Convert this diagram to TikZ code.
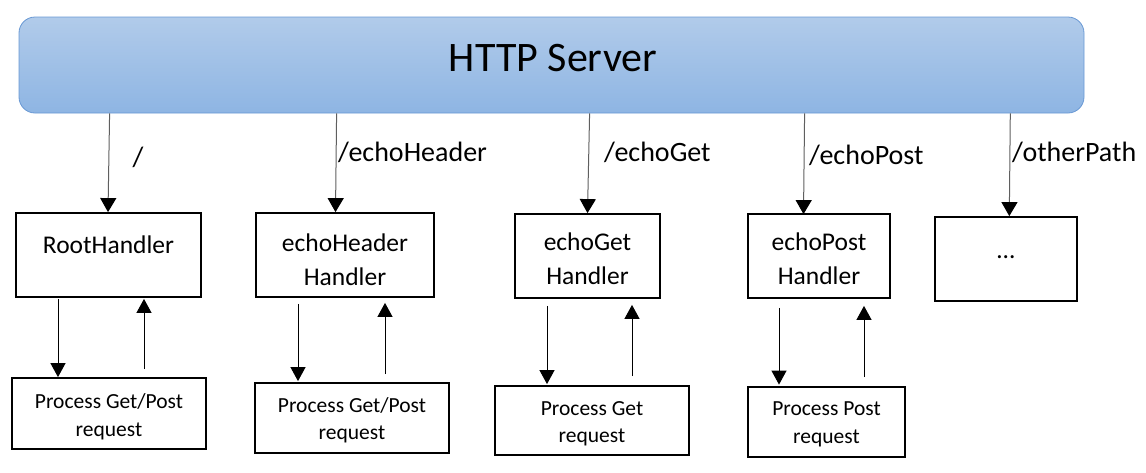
\documentclass[tikz,border=0pt]{standalone}
\usepackage{fontspec}
\setmainfont{Carlito}
\usetikzlibrary{arrows.meta,calc}
\definecolor{srvtop}{RGB}{177,203,234}
\definecolor{srvbot}{RGB}{142,181,227}
\definecolor{srvedge}{RGB}{104,152,212}
\definecolor{linkgray}{RGB}{95,95,95}
\tikzset{
  srv/.style={rectangle, rounded corners=16pt, draw=srvedge, line width=0.8pt,
    top color=srvtop, bottom color=srvbot, inner sep=0pt},
  box/.style={rectangle, draw=black, line width=1.8pt, inner sep=0pt},
  htext/.style={font=\fontsize{25.5}{34}\selectfont, align=center, inner sep=0pt},
  ptext/.style={font=\fontsize{21.5}{27.5}\selectfont, align=center, inner sep=0pt},
  pathlabel/.style={font=\fontsize{28}{34}\selectfont, inner sep=0pt, anchor=west},
  route/.style={draw=linkgray, line width=1pt, -{Triangle[width=16pt,length=14pt,color=black]}},
  flow/.style={draw=black, line width=1pt, -{Triangle[width=15pt,length=14pt]}},
}
\begin{document}
\begin{tikzpicture}[x=1pt,y=-1pt]
\useasboundingbox (0,0) rectangle (1146,472);

% server
\node[srv, minimum width=1065pt, minimum height=96pt] (server) at (551.5,65) {};
\node[font=\fontsize{42}{50}\selectfont, inner sep=0pt] (title) at (553,58) {HTTP Server};

% handler boxes
\node[box, minimum width=185pt, minimum height=84pt] (rh) at (108.5,255) {};
\node[htext] (rht) at (108.5,245) {RootHandler};
\node[box, minimum width=178pt, minimum height=84pt] (eh) at (345,255) {};
\node[htext] (eht) at (345,260) {echoHeader\\Handler};
\node[box, minimum width=145pt, minimum height=84pt] (eg) at (587.5,256) {};
\node[htext] (egt) at (587.5,258.5) {echoGet\\Handler};
\node[box, minimum width=142pt, minimum height=84pt] (ep) at (819,256) {};
\node[htext] (ept) at (819,259) {echoPost\\Handler};
\node[box, minimum width=142pt, minimum height=84pt] (ot) at (1006,259) {};
\node[htext, anchor=base] (ott) at (1006,258) {…};

% process boxes
\node[box, minimum width=194pt, minimum height=71pt] (p1) at (109,413.5) {};
\node[ptext] (p1t) at (109,417) {Process Get/Post\\request};
\node[box, minimum width=194pt, minimum height=70pt] (p2) at (352,418) {};
\node[ptext] (p2t) at (352,420.5) {Process Get/Post\\request};
\node[box, minimum width=194pt, minimum height=69pt] (p3) at (592,420.5) {};
\node[ptext] (p3t) at (592,423.5) {Process Get\\request};
\node[box, minimum width=157pt, minimum height=70pt] (p4) at (826.5,422) {};
\node[ptext] (p4t) at (826.5,424.5) {Process Post\\request};

% routes from server
\draw[route] ($(server.south west)+(91,0)$) -- ($(rh.north)+(-0.5,0)$);
\draw[route] ($(server.south west)+(318,0)$) -- ($(eh.north)+(-9.5,0)$);
\draw[route] ($(server.south west)+(571,0)$) -- ($(eg.north)+(0,0)$);
\draw[route] ($(server.south west)+(786,0)$) -- ($(ep.north)+(-15.5,1)$);
\draw[route] ($(server.south west)+(991.7,0)$) -- ($(ot.north)+(3.3,0)$);

% route labels
\node[font=\fontsize{28}{34}\selectfont, inner sep=0pt] (l1) at (138,157) {/};
\node[pathlabel] (l2) at (338,152) {/echoHeader};
\node[pathlabel] (l3) at (604,152) {/echoGet};
\node[pathlabel] (l4) at (809,155) {/echoPost};
\node[pathlabel] (l5) at (1012,152) {/otherPath};

% handler <-> process
\draw[flow] ($(rh.south)+(-50.5,1)$) -- ($(p1.north)+(-51,0)$);
\draw[flow] ($(p1.north)+(35,-8)$) -- ($(rh.south)+(35.5,1)$);
\draw[flow] ($(eh.south)+(-47,6)$) -- ($(p2.north)+(-54,-1)$);
\draw[flow] ($(p2.north)+(33,-8)$) -- ($(eh.south)+(40,5)$);
\draw[flow] ($(eg.south)+(-40.5,7)$) -- ($(p3.north)+(-45,-1)$);
\draw[flow] ($(p3.north)+(40,-9)$) -- ($(eg.south)+(44.5,6)$);
\draw[flow] ($(ep.south)+(-40,9)$) -- ($(p4.north)+(-47.5,-1.5)$);
\draw[flow] ($(p4.north)+(37.5,-9)$) -- ($(ep.south)+(45,7)$);
\end{tikzpicture}
\end{document}
